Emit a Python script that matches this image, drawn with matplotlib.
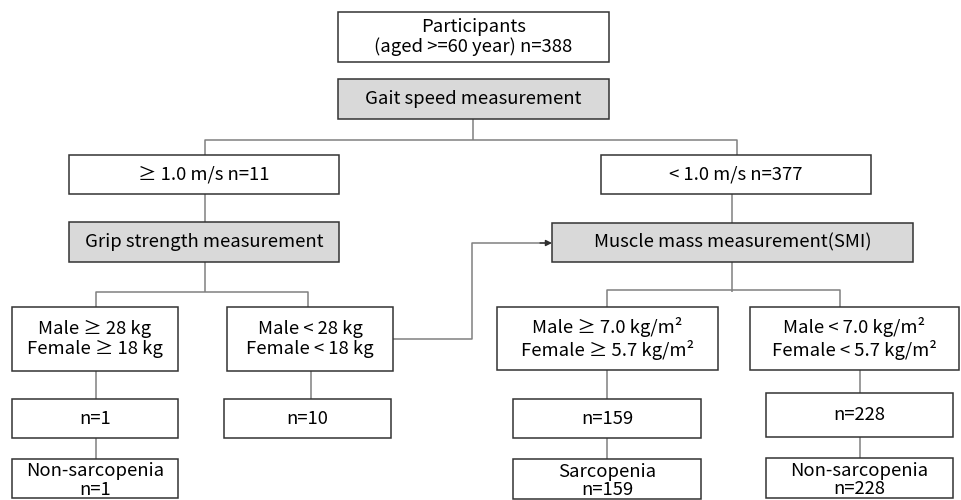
import matplotlib
matplotlib.use("Agg")
import matplotlib.pyplot as plt
from matplotlib.patches import Rectangle

plt.rcParams['font.family'] = ['Noto Sans CJK KR', 'DejaVu Sans']

# box texts
labels = [
    "Participants\n(aged >=60 year) n=388",
    "Gait speed measurement",
    "\u2265 1.0 m/s n=11",
    "< 1.0 m/s n=377",
    "Grip strength measurement",
    "Muscle mass measurement(SMI)",
    "Male \u2265 28 kg\nFemale \u2265 18 kg",
    "Male < 28 kg\nFemale < 18 kg",
    "Male \u2265 7.0 kg/m\u00b2\nFemale \u2265 5.7 kg/m\u00b2",
    "Male < 7.0 kg/m\u00b2\nFemale < 5.7 kg/m\u00b2",
    "n=1",
    "n=10",
    "n=159",
    "n=228",
    "Non-sarcopenia\nn=1",
    "Sarcopenia\nn=159",
    "Non-sarcopenia\nn=228",
]
shaded = [1, 4, 5]

# layout in pixels: x0, y0, x1, y1 (y down)
boxes = [
    (338, 12, 609, 62),
    (338, 79, 609, 119),
    (69, 155, 339, 194),
    (601, 155, 871, 194),
    (69, 222, 339, 262),
    (552, 223, 913, 262),
    (12, 307, 178, 371),
    (227, 307, 393, 371),
    (497, 307, 718, 370),
    (750, 307, 959, 370),
    (12, 399, 178, 438),
    (224, 399, 391, 438),
    (513, 399, 701, 438),
    (766, 393, 953, 437),
    (12, 459, 178, 498),
    (513, 459, 701, 499),
    (766, 458, 953, 498),
]

lines = [
    [(473, 119), (473, 140)],
    [(205, 155), (205, 140), (737, 140), (737, 155)],
    [(205, 194), (205, 222)],
    [(732, 194), (732, 223)],
    [(205, 262), (205, 292)],
    [(96, 307), (96, 292), (308, 292), (308, 307)],
    [(96, 371), (96, 399)],
    [(96, 438), (96, 459)],
    [(311, 371), (311, 399)],
    [(732, 262), (732, 292)],
    [(607, 307), (607, 290), (840, 290), (840, 307)],
    [(607, 370), (607, 399)],
    [(607, 438), (607, 459)],
    [(860, 370), (860, 393)],
    [(860, 437), (860, 458)],
]

fig = plt.figure(figsize=(9.61, 5.0), dpi=100)
ax = fig.add_axes([0, 0, 1, 1])
ax.set_xlim(0, 961)
ax.set_ylim(500, 0)
ax.axis('off')

for pts in lines:
    xs = [p[0] for p in pts]
    ys = [p[1] for p in pts]
    ax.plot(xs, ys, color='#808080', lw=1.1, solid_capstyle='butt')

# arrow from "Male < 28 kg" box to muscle mass box
ax.plot([393, 472, 472, 545], [339, 339, 243, 243], color='#808080', lw=1.1)
ax.annotate("", xy=(552, 243), xytext=(540, 243),
            arrowprops=dict(arrowstyle='-|>', color='#303030', lw=1.0,
                            mutation_scale=9, shrinkA=0, shrinkB=0))

for i, (b, txt) in enumerate(zip(boxes, labels)):
    x0, y0, x1, y1 = b
    fc = '#d9d9d9' if i in shaded else 'white'
    ax.add_patch(Rectangle((x0, y0), x1 - x0, y1 - y0, facecolor=fc,
                           edgecolor='#333333', lw=1.1, zorder=3))
    cy = (y0 + y1) / 2
    ls = 1.15
    if i == 0:
        ls = 1.05
    if i >= 14:
        cy += 2
        ls = 1.05
    ax.text((x0 + x1) / 2, cy, txt, ha='center', va='center',
            fontsize=13.3, color='black', linespacing=ls, zorder=4)

fig.savefig("out.png", dpi=100)
